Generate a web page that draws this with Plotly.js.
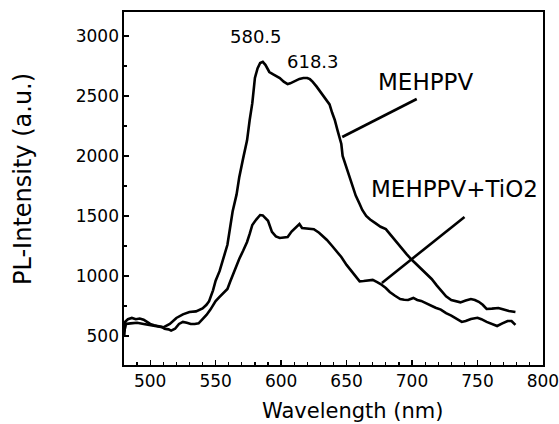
<!DOCTYPE html>
<html>
<head>
<meta charset="utf-8">
<script src="https://cdn.plot.ly/plotly-3.0.1.min.js"></script>
<style>html,body{margin:0;padding:0;background:#fff;}#chart{width:559px;height:424px;}</style>
</head>
<body>
<div id="chart"></div>
<script>
// Wavelength (nm) and PL intensity (a.u.)
var wlMEH = [480.2,481.5,485,490,495,500,505,510,515,520,525,530,535,540,543,545,548,550,553,556,559,561,563,566,568,571,574,576,578,580,582,584,586,588,589,591,594,597,599,602,605,607,609,612,614,617,620,622,624,627,630,632,635,637,639,641,643,645,646,647,649,651,653,655,657,660,662,665,668,672,676,680,683,686,689,692,696,700,704,707,711,715,719,723,726,730,734,737,741,745,748,751,754,757,761,766,770,774,779];
var plMEH = [540,600,605,610,600,590,578,572,600,650,680,700,705,730,760,790,880,960,1040,1150,1260,1400,1540,1680,1820,1980,2130,2300,2440,2650,2730,2775,2785,2760,2740,2700,2680,2660,2650,2620,2600,2605,2617,2630,2642,2650,2650,2640,2620,2580,2533,2500,2460,2430,2360,2300,2217,2140,2100,2000,1930,1870,1800,1740,1670,1600,1550,1500,1470,1440,1410,1390,1350,1310,1270,1225,1180,1133,1090,1060,1020,975,920,865,830,800,785,780,795,808,800,785,760,725,728,733,720,708,700];

var wlTiO2 = [480.2,481,483,486,489,492,495,498,500,503,506,509,511,514,516,519,522,525,528,531,534,537,540,543,546,548,550,553,556,559,561,563,566,568,571,574,576,578,581,584,586,588,590,593,596,599,602,605,608,611,614,616,619,622,625,629,632,635,639,643,646,650,653,657,660,663,666,670,673,676,680,683,687,691,694,697,701,704,707,711,714,718,722,726,730,734,738,741,745,750,753,757,761,765,769,773,776,779];
var plTiO2 = [500,620,640,650,640,645,635,615,600,590,585,575,560,555,545,560,600,617,610,600,600,605,640,675,720,758,790,825,860,892,950,1008,1080,1142,1210,1283,1350,1425,1470,1508,1505,1480,1460,1367,1330,1317,1320,1325,1370,1400,1433,1400,1395,1395,1390,1360,1330,1300,1250,1200,1158,1092,1050,990,955,958,962,967,950,933,900,867,835,808,802,800,817,800,792,770,758,735,720,690,670,642,617,625,642,652,640,617,600,583,605,625,625,592];

var xTickVals = [500,550,600,650,700,750,800];
var yTickVals = [500,1000,1500,2000,2500,3000];

// Peak labels
var peakText = ["580.5","618.3"];
var peakX = [580.5, 624.6];
var peakY = [2996, 2787];

// Series labels with pointer lines
var seriesText = ["MEHPPV","MEHPPV+TiO2"];
var seriesX = [710.5, 732.5];
var seriesY = [2617, 1725];
var pointerX0 = [646.7, 677.0];
var pointerY0 = [2158, 942];
var pointerX1 = [703.6, 740.1];
var pointerY1 = [2475, 1492];

var FONT = "DejaVu Sans";

var traces = [
  {x: wlMEH, y: plMEH, type: 'scatter', mode: 'lines', line: {color: '#000', width: 2.6}, hoverinfo: 'skip'},
  {x: wlTiO2, y: plTiO2, type: 'scatter', mode: 'lines', line: {color: '#000', width: 2.6}, hoverinfo: 'skip'}
];

var annotations = [];
for (var i = 0; i < peakText.length; i++) {
  annotations.push({x: peakX[i], y: peakY[i], xref: 'x', yref: 'y', text: peakText[i], showarrow: false,
    xanchor: 'center', yanchor: 'middle', font: {family: FONT, size: 18, color: '#000'}});
}
for (var j = 0; j < seriesText.length; j++) {
  annotations.push({x: seriesX[j], y: seriesY[j], xref: 'x', yref: 'y', text: seriesText[j], showarrow: false,
    xanchor: 'center', yanchor: 'middle', font: {family: FONT, size: 23, color: '#000'}});
}
annotations.push({x: 0.545, y: -0.13, xref: 'paper', yref: 'paper', text: 'Wavelength (nm)', showarrow: false,
  xanchor: 'center', yanchor: 'middle', font: {family: FONT, size: 21, color: '#000'}});
annotations.push({x: -0.241, y: 0.527, xref: 'paper', yref: 'paper', text: 'PL-Intensity (a.u.)', showarrow: false,
  textangle: -90, xanchor: 'center', yanchor: 'middle', font: {family: FONT, size: 24, color: '#000'}});

var shapes = [];
for (var k = 0; k < pointerX0.length; k++) {
  shapes.push({type: 'line', xref: 'x', yref: 'y', x0: pointerX0[k], y0: pointerY0[k], x1: pointerX1[k], y1: pointerY1[k],
    line: {color: '#000', width: 2.6}});
}

var layout = {
  width: 559, height: 424,
  margin: {l: 124, r: 16, t: 12, b: 59, pad: 0},
  paper_bgcolor: '#fff', plot_bgcolor: '#fff',
  showlegend: false,
  font: {family: FONT, color: '#000'},
  xaxis: {
    range: [480, 800.05], showgrid: false, zeroline: false,
    showline: true, mirror: true, linecolor: '#000', linewidth: 1.6,
    ticks: 'inside', ticklen: 5, tickwidth: 1.3, tickcolor: '#000',
    tickvals: xTickVals, ticktext: xTickVals.map(String),
    ticklabeloverflow: 'allow',
    tickfont: {family: FONT, size: 17, color: '#000'},
    minor: {ticks: 'inside', dtick: 10, ticklen: 3, tickwidth: 1.2, tickcolor: '#000', showgrid: false}
  },
  yaxis: {
    range: [258, 3200], showgrid: false, zeroline: false,
    showline: true, mirror: true, linecolor: '#000', linewidth: 1.6,
    ticks: 'inside', ticklen: 5, tickwidth: 1.3, tickcolor: '#000',
    tickvals: yTickVals, ticktext: yTickVals.map(String),
    tickfont: {family: FONT, size: 17, color: '#000'},
    minor: {ticks: 'inside', dtick: 250, tick0: 0, ticklen: 3, tickwidth: 1.2, tickcolor: '#000', showgrid: false}
  },
  annotations: annotations,
  shapes: shapes
};

Plotly.newPlot('chart', traces, layout, {staticPlot: true, displayModeBar: false});
</script>
</body>
</html>
